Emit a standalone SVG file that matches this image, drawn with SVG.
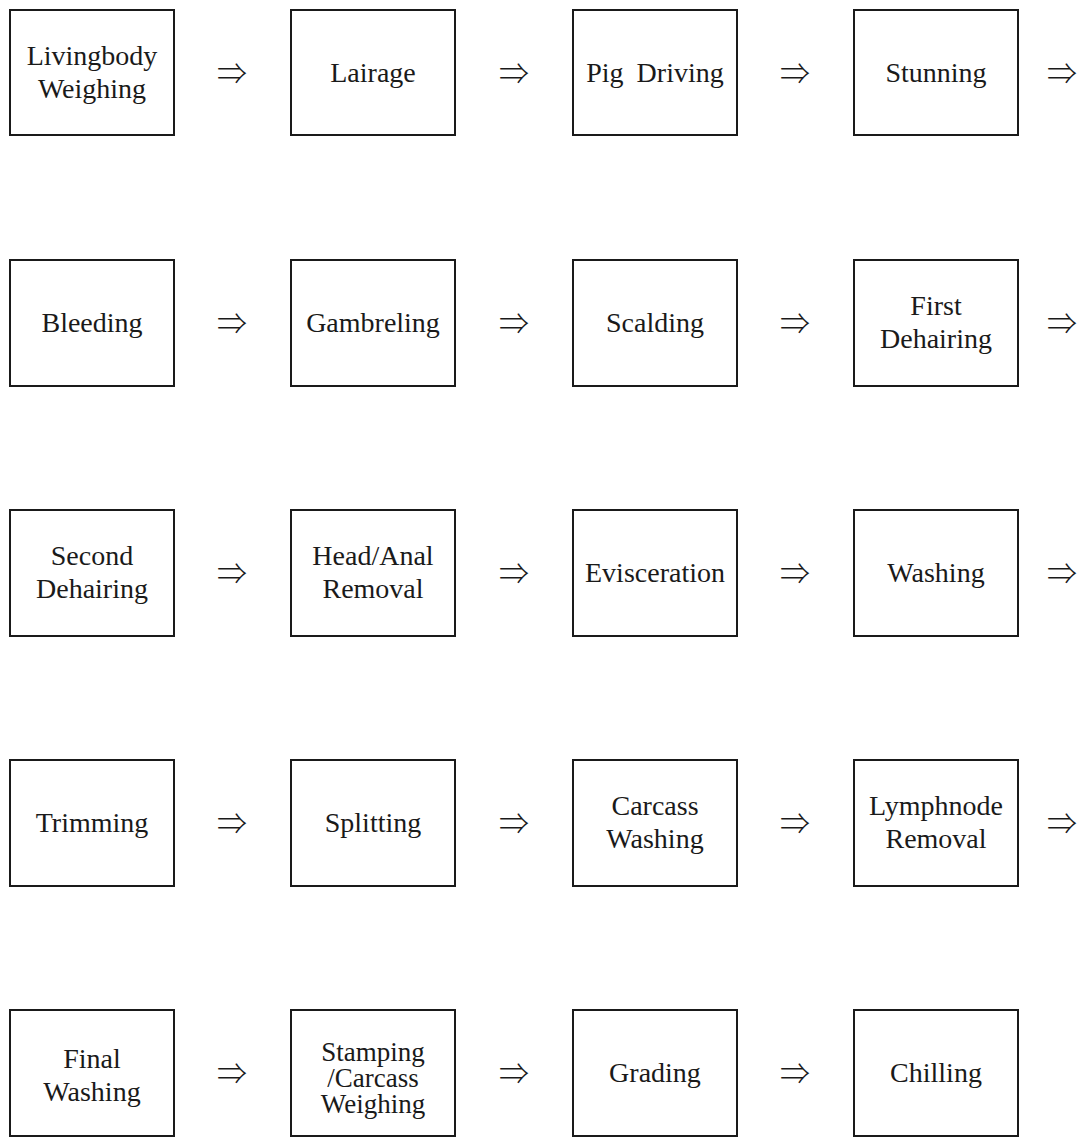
<svg xmlns="http://www.w3.org/2000/svg" width="1082" height="1138" viewBox="0 0 1082 1138">
<style>
.box{fill:#fff;stroke:#1a1a1a;stroke-width:2}
.lbl{font-family:"Liberation Serif","DejaVu Serif",serif;font-size:28px;fill:#1a1a1a;text-anchor:middle}
.sm{font-size:27px}
.arr{font-family:"Noto Sans CJK KR","DejaVu Sans",sans-serif;font-size:30px;font-weight:300;fill:#1a1a1a;text-anchor:middle}
</style>
<rect width="1082" height="1138" fill="#fff"/>
<g id="n1"><rect class="box" x="10" y="10" width="164" height="125"/><text class="lbl" x="92" y="65">Livingbody</text><text class="lbl" x="92" y="98">Weighing</text></g>
<g id="n2"><rect class="box" x="291" y="10" width="164" height="125"/><text class="lbl" x="373" y="82">Lairage</text></g>
<g id="n3"><rect class="box" x="573" y="10" width="164" height="125"/><text class="lbl" x="655" y="82" word-spacing="6">Pig Driving</text></g>
<g id="n4"><rect class="box" x="854" y="10" width="164" height="125"/><text class="lbl" x="936" y="82">Stunning</text></g>

<g id="n5"><rect class="box" x="10" y="260" width="164" height="126"/><text class="lbl" x="92" y="332">Bleeding</text></g>
<g id="n6"><rect class="box" x="291" y="260" width="164" height="126"/><text class="lbl" x="373" y="332">Gambreling</text></g>
<g id="n7"><rect class="box" x="573" y="260" width="164" height="126"/><text class="lbl" x="655" y="332">Scalding</text></g>
<g id="n8"><rect class="box" x="854" y="260" width="164" height="126"/><text class="lbl" x="936" y="315">First</text><text class="lbl" x="936" y="348">Dehairing</text></g>

<g id="n9"><rect class="box" x="10" y="510" width="164" height="126"/><text class="lbl" x="92" y="565">Second</text><text class="lbl" x="92" y="598">Dehairing</text></g>
<g id="n10"><rect class="box" x="291" y="510" width="164" height="126"/><text class="lbl" x="373" y="565">Head/Anal</text><text class="lbl" x="373" y="598">Removal</text></g>
<g id="n11"><rect class="box" x="573" y="510" width="164" height="126"/><text class="lbl" x="655" y="582">Evisceration</text></g>
<g id="n12"><rect class="box" x="854" y="510" width="164" height="126"/><text class="lbl" x="936" y="582">Washing</text></g>

<g id="n13"><rect class="box" x="10" y="760" width="164" height="126"/><text class="lbl" x="92" y="832">Trimming</text></g>
<g id="n14"><rect class="box" x="291" y="760" width="164" height="126"/><text class="lbl" x="373" y="832">Splitting</text></g>
<g id="n15"><rect class="box" x="573" y="760" width="164" height="126"/><text class="lbl" x="655" y="815">Carcass</text><text class="lbl" x="655" y="848">Washing</text></g>
<g id="n16"><rect class="box" x="854" y="760" width="164" height="126"/><text class="lbl" x="936" y="815">Lymphnode</text><text class="lbl" x="936" y="848">Removal</text></g>

<g id="n17"><rect class="box" x="10" y="1010" width="164" height="126"/><text class="lbl" x="92" y="1068">Final</text><text class="lbl" x="92" y="1101">Washing</text></g>
<g id="n18"><rect class="box" x="291" y="1010" width="164" height="126"/><text class="lbl sm" x="373" y="1061">Stamping</text><text class="lbl sm" x="373" y="1087">/Carcass</text><text class="lbl sm" x="373" y="1113">Weighing</text></g>
<g id="n19"><rect class="box" x="573" y="1010" width="164" height="126"/><text class="lbl" x="655" y="1082">Grading</text></g>
<g id="n20"><rect class="box" x="854" y="1010" width="164" height="126"/><text class="lbl" x="936" y="1082">Chilling</text></g>

<g id="connectors">
<text class="arr" x="232" y="84">⇒</text><text class="arr" x="514" y="84">⇒</text><text class="arr" x="795" y="84">⇒</text><text class="arr" x="1062" y="84">⇒</text>
<text class="arr" x="232" y="334">⇒</text><text class="arr" x="514" y="334">⇒</text><text class="arr" x="795" y="334">⇒</text><text class="arr" x="1062" y="334">⇒</text>
<text class="arr" x="232" y="584">⇒</text><text class="arr" x="514" y="584">⇒</text><text class="arr" x="795" y="584">⇒</text><text class="arr" x="1062" y="584">⇒</text>
<text class="arr" x="232" y="834">⇒</text><text class="arr" x="514" y="834">⇒</text><text class="arr" x="795" y="834">⇒</text><text class="arr" x="1062" y="834">⇒</text>
<text class="arr" x="232" y="1084">⇒</text><text class="arr" x="514" y="1084">⇒</text><text class="arr" x="795" y="1084">⇒</text>
</g>
</svg>
